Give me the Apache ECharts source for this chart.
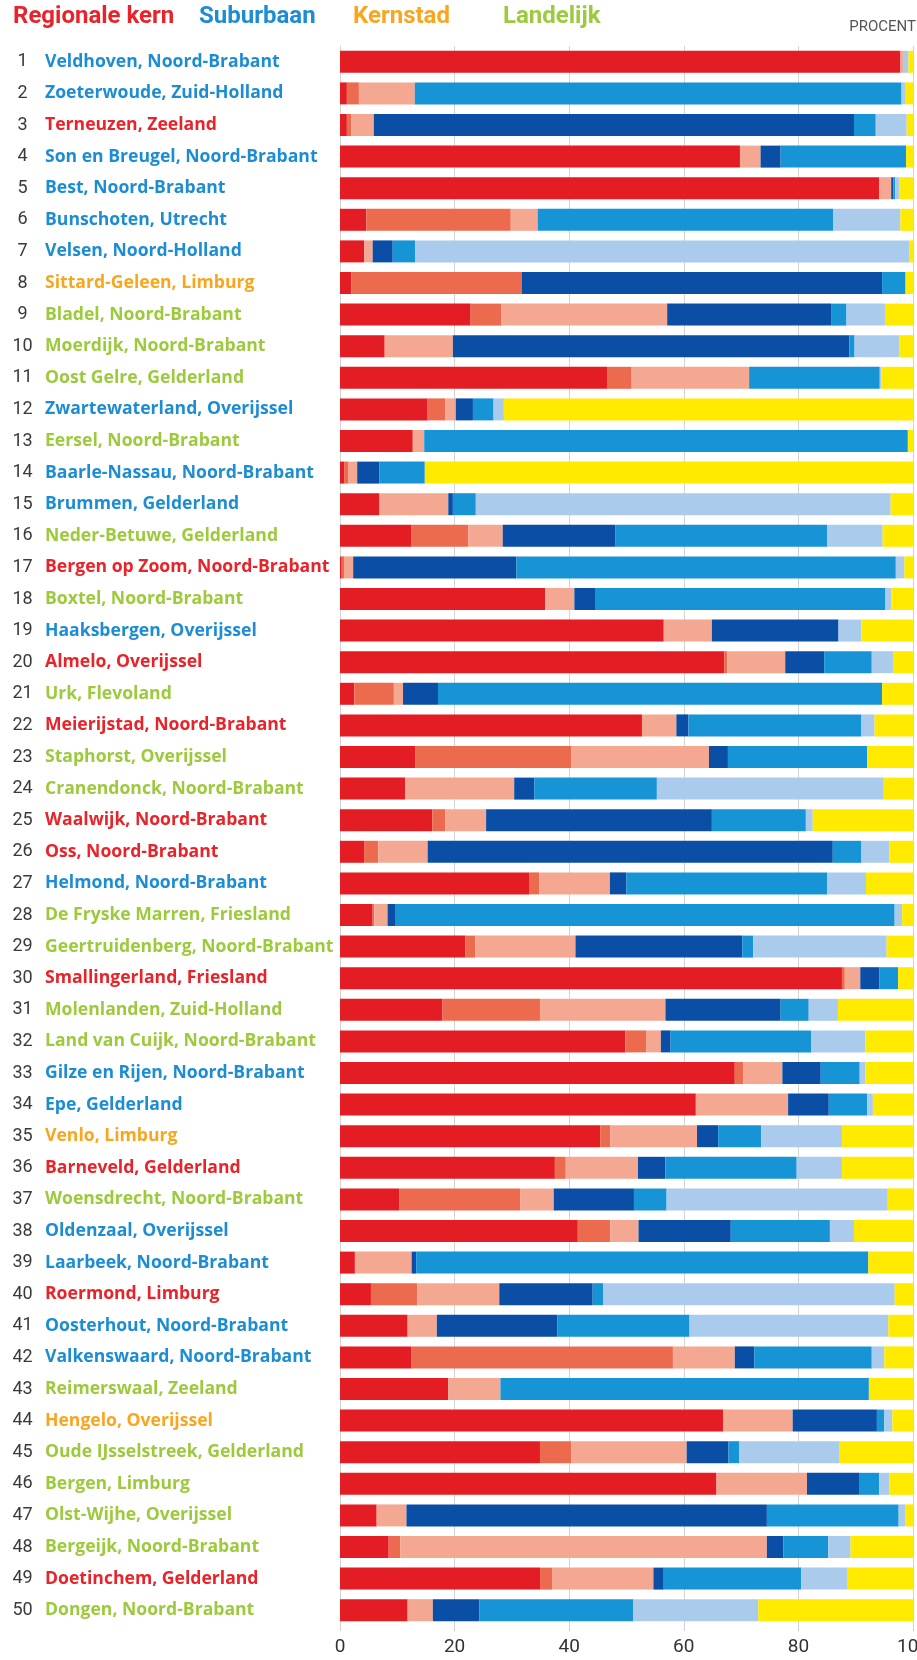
<!DOCTYPE html>
<html>
<head>
<meta charset="utf-8">
<script src="https://cdn.jsdelivr.net/npm/echarts/dist/echarts.min.js"></script>
<style>
html,body{margin:0;padding:0;background:#ffffff;}
#chart{width:917px;height:1660px;}
</style>
</head>
<body>
<div id="chart"></div>
<script>
const categories = [
  'Veldhoven, Noord-Brabant','Zoeterwoude, Zuid-Holland','Terneuzen, Zeeland','Son en Breugel, Noord-Brabant','Best, Noord-Brabant',
  'Bunschoten, Utrecht','Velsen, Noord-Holland','Sittard-Geleen, Limburg','Bladel, Noord-Brabant','Moerdijk, Noord-Brabant',
  'Oost Gelre, Gelderland','Zwartewaterland, Overijssel','Eersel, Noord-Brabant','Baarle-Nassau, Noord-Brabant','Brummen, Gelderland',
  'Neder-Betuwe, Gelderland','Bergen op Zoom, Noord-Brabant','Boxtel, Noord-Brabant','Haaksbergen, Overijssel','Almelo, Overijssel',
  'Urk, Flevoland','Meierijstad, Noord-Brabant','Staphorst, Overijssel','Cranendonck, Noord-Brabant','Waalwijk, Noord-Brabant',
  'Oss, Noord-Brabant','Helmond, Noord-Brabant','De Fryske Marren, Friesland','Geertruidenberg, Noord-Brabant','Smallingerland, Friesland',
  'Molenlanden, Zuid-Holland','Land van Cuijk, Noord-Brabant','Gilze en Rijen, Noord-Brabant','Epe, Gelderland','Venlo, Limburg',
  'Barneveld, Gelderland','Woensdrecht, Noord-Brabant','Oldenzaal, Overijssel','Laarbeek, Noord-Brabant','Roermond, Limburg',
  'Oosterhout, Noord-Brabant','Valkenswaard, Noord-Brabant','Reimerswaal, Zeeland','Hengelo, Overijssel','Oude IJsselstreek, Gelderland',
  'Bergen, Limburg','Olst-Wijhe, Overijssel','Bergeijk, Noord-Brabant','Doetinchem, Gelderland','Dongen, Noord-Brabant'
];
// R = Regionale kern, S = Suburbaan, K = Kernstad, L = Landelijk
const regionTypes = [
  'S','S','R','S','S','S','S','K','L','L',
  'L','S','L','S','S','L','R','L','S','R',
  'L','R','L','L','R','R','S','L','L','R',
  'L','L','S','S','K','R','L','S','S','R',
  'S','S','L','K','L','L','L','L','R','L'
];
const typeLabels = ['Regionale kern','Suburbaan','Kernstad','Landelijk'];
const xTicks = [0,20,40,60,80,100];

const seg1 = [97.8,1.2,1.2,69.8,94.1,4.6,4.2,2.0,22.8,7.8,46.6,15.3,12.7,0.8,6.9,12.5,0.3,35.8,56.5,67.1,2.5,52.7,13.1,11.4,16.1,4.2,33.1,5.7,21.9,87.6,17.9,49.8,68.9,62.1,45.4,37.5,10.4,41.5,2.6,5.4,11.8,12.5,18.9,66.9,34.9,65.7,6.4,8.5,34.9,11.8];
const seg2 = [0,2.1,0.8,0,0,25.2,0,29.7,5.3,0,4.3,3.1,0,0.6,0,9.9,0.5,0,0,0.5,6.9,0,27.3,0,2.3,2.5,1.7,0.3,1.7,0.5,17.0,3.6,1.5,0,1.8,1.9,21.1,5.7,0,8.1,0,45.6,0,0,5.5,0,0,2.0,2.1,0];
const seg3 = [0.6,9.75,3.9,3.6,2.1,4.7,1.5,0,29.0,11.9,20.5,1.8,2.0,1.6,12.0,6.0,1.5,5.1,8.4,10.1,1.6,6.0,24.0,19.0,7.1,8.6,12.3,2.3,17.5,2.7,21.9,2.6,6.8,16.1,15.1,12.6,5.8,4.9,9.9,14.3,5.1,10.8,9.1,12.1,20.1,15.8,5.2,64.0,17.7,4.4];
const seg4 = [0,0,83.8,3.5,0.4,0,3.5,62.9,28.6,69.2,0,3.0,0,3.9,0.8,19.7,28.5,3.6,22.1,6.8,6.1,2.1,3.3,3.5,39.4,70.7,2.9,1.3,29.1,3.3,20.1,1.7,6.7,7.1,3.7,4.8,14.0,16.1,0.8,16.3,21.0,3.4,0,14.7,7.3,9.2,62.9,2.9,1.8,8.1];
const seg5 = [0,84.95,3.8,21.9,0.3,51.6,3.9,4.1,2.7,0.9,22.8,3.6,84.4,7.9,4.0,36.9,66.2,50.7,0,8.3,77.5,30.2,24.3,21.4,16.4,5.0,35.0,87.2,1.9,3.3,4.9,24.5,6.8,6.7,7.5,22.9,5.7,17.3,78.9,1.8,23.1,20.5,64.3,1.3,1.9,3.4,23.0,7.8,24.0,26.9];
const seg6 = [0.8,0.6,5.4,0,0.7,11.7,86.3,0,6.7,7.8,0.3,1.8,0,0,72.4,9.7,1.5,1.0,4.0,3.7,0,2.3,0,39.6,1.2,4.9,6.8,1.3,23.3,0,5.1,9.5,1.0,1.0,14.1,7.9,38.6,4.2,0,50.9,34.7,2.2,0,1.4,17.5,1.8,1.2,3.9,8.1,21.8];
const seg7 = [0.8,1.4,1.1,1.2,2.4,2.2,0.6,1.3,4.9,2.4,5.5,71.4,0.9,85.2,3.9,5.3,1.5,3.8,9.0,3.5,5.4,6.7,8.0,5.1,17.5,4.1,8.2,1.9,4.6,2.6,13.1,8.3,8.3,7.0,12.4,12.4,4.4,10.3,7.8,3.2,4.3,5.0,7.7,3.6,12.8,4.1,1.3,10.9,11.4,27.0];

const segments = [seg1, seg2, seg3, seg4, seg5, seg6, seg7];
const segNames = ['Segment 1','Segment 2','Segment 3','Segment 4','Segment 5','Segment 6','Segment 7'];
const segColors = ['#e31d23','#ec6a4e','#f4a892','#0a4fa5','#1794d6','#abcbec','#ffea00'];
const typeColors = { R:'#e8232a', S:'#1d8dd3', K:'#f8a620', L:'#9cca3c' };

const chart = echarts.init(document.getElementById('chart'), null, {renderer:'canvas'});

const labelFont = 'Roboto, "DejaVu Sans", sans-serif';
const nameFont = '"Open Sans", Roboto, sans-serif';
const rich = {
  num: { width: 29, align: 'right', fontSize: 18, color: '#3a3a3a', fontFamily: labelFont }
};
['R','S','K','L'].forEach(t => {
  rich[t] = { color: typeColors[t], fontSize: 17.6, fontWeight: 'bold', fontFamily: nameFont, padding: [0,0,0,8] };
});

const series = segments.map((d, i) => ({
  name: segNames[i],
  type: 'bar',
  stack: 'total',
  barWidth: 22,
  data: d,
  itemStyle: { color: segColors[i] },
  emphasis: { disabled: true },
  silent: true
}));

const headerX = [13, 199, 353, 503];
const headerTypes = ['R','S','K','L'];

chart.setOption({
  backgroundColor: '#ffffff',
  animation: false,
  grid: { left: 340, right: 4, top: 46, height: 1580, containLabel: false, outerBoundsMode: 'none' },
  xAxis: {
    type: 'value',
    min: 0, max: 100, interval: 20,
    axisLine: { show: false },
    axisTick: { show: true, length: 5, lineStyle: { color: '#cfcfcf' } },
    splitLine: { show: true, lineStyle: { color: '#d3d3d3', width: 1 } },
    axisLabel: {
      fontSize: 19, color: '#333', fontFamily: labelFont, margin: 12,
      formatter: v => xTicks.indexOf(v) >= 0 ? String(v) : ''
    }
  },
  yAxis: {
    type: 'category',
    inverse: true,
    data: categories,
    axisTick: { show: false },
    axisLine: { show: true, lineStyle: { color: '#d3d3d3' } },
    axisLabel: {
      margin: 332,
      align: 'left',
      formatter: (value, idx) => '{num|' + (idx + 1) + '}{' + regionTypes[idx] + '|' + value + '}',
      rich: rich
    }
  },
  graphic: headerTypes.map((t, i) => ({
    type: 'text', left: headerX[i], top: 5,
    style: { text: typeLabels[i], fill: typeColors[t], font: 'bold 24px ' + labelFont }
  })).concat([{
    type: 'text', right: 1, top: 20,
    style: { text: 'PROCENT', fill: '#555', font: '15px ' + labelFont }
  }]),
  series: series
});
</script>
</body>
</html>
